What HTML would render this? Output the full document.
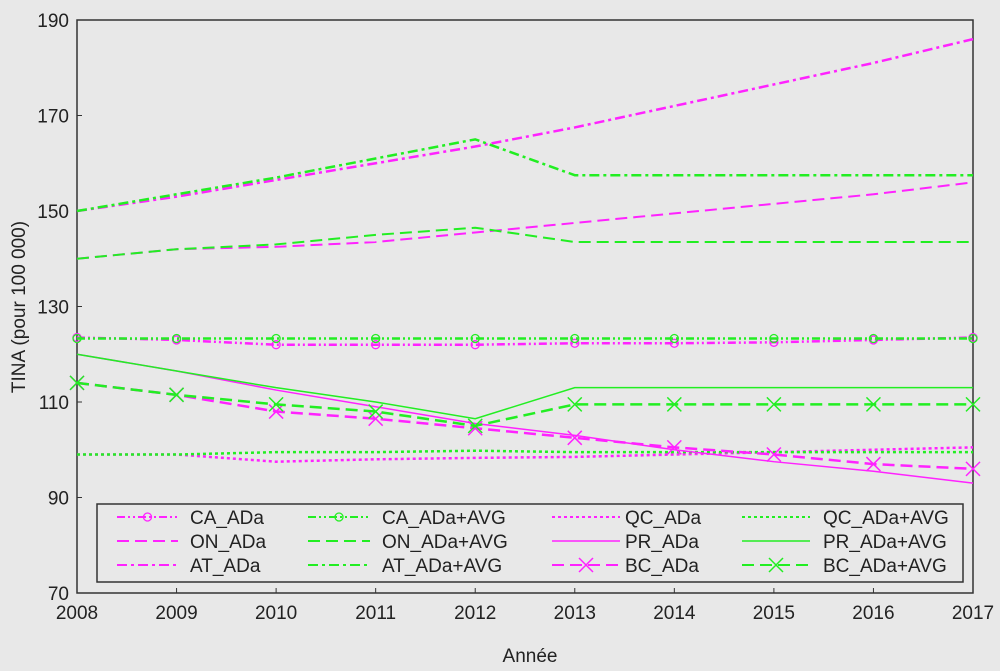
<!DOCTYPE html>
<html><head><meta charset="utf-8"><style>
body{margin:0;background:#e8e8e8;}
svg{display:block;font-family:"Liberation Sans",sans-serif;}
</style></head><body>
<svg id="c" width="1000" height="671"></svg>
<script>
const years=[2008,2009,2010,2011,2012,2013,2014,2015,2016,2017];
const yTicks=[70,90,110,130,150,170,190];
const CA_ADa=[123.5,123,122,122,122,122.3,122.3,122.5,123,123.5];
const CA_AVG=[123.3,123.3,123.3,123.3,123.3,123.3,123.3,123.3,123.3,123.3];
const QC_ADa=[99,99,97.5,98,98.3,98.5,99,99.5,100,100.5];
const QC_AVG=[99,99,99.5,99.5,99.8,99.5,99.5,99.5,99.5,99.5];
const ON_ADa=[140,142,142.5,143.5,145.5,147.5,149.5,151.5,153.5,156];
const ON_AVG=[140,142,143,145,146.5,143.5,143.5,143.5,143.5,143.5];
const PR_ADa=[120,116.5,112.5,109,105.5,103,100,97.5,95.5,93];
const PR_AVG=[120,116.5,113,110,106.5,113,113,113,113,113];
const AT_ADa=[150,153,156.5,160,163.5,167.5,172,176.5,181,186];
const AT_AVG=[150,153.5,157,161,165,157.5,157.5,157.5,157.5,157.5];
const BC_ADa=[114,111.5,108,106.5,104.5,102.5,100.5,99,97,96];
const BC_AVG=[114,111.5,109.5,108,105,109.5,109.5,109.5,109.5,109.5];
const M="#ff22ff",G="#22ee22";
const series=[
 {n:"CA_ADa",d:CA_ADa,c:M,dash:"8,3,2,3,2,3",mk:"o"},
 {n:"CA_ADa+AVG",d:CA_AVG,c:G,dash:"8,3,2,3,2,3",mk:"o"},
 {n:"QC_ADa",d:QC_ADa,c:M,dash:"3,3",mk:""},
 {n:"QC_ADa+AVG",d:QC_AVG,c:G,dash:"3,3",mk:""},
 {n:"ON_ADa",d:ON_ADa,c:M,dash:"12,6",mk:"",w:2},
 {n:"ON_ADa+AVG",d:ON_AVG,c:G,dash:"12,6",mk:"",w:2},
 {n:"PR_ADa",d:PR_ADa,c:M,dash:"",mk:"",w:1.5},
 {n:"PR_ADa+AVG",d:PR_AVG,c:G,dash:"",mk:"",w:1.5},
 {n:"AT_ADa",d:AT_ADa,c:M,dash:"10,4,3,4",mk:""},
 {n:"AT_ADa+AVG",d:AT_AVG,c:G,dash:"10,4,3,4",mk:""},
 {n:"BC_ADa",d:BC_ADa,c:M,dash:"12,6",mk:"x"},
 {n:"BC_ADa+AVG",d:BC_AVG,c:G,dash:"12,6",mk:"x"}
];
const L=77,R=973,T=20,B=593;
const xs=y=>L+(y-2008)/(2017-2008)*(R-L);
const ys=v=>B-(v-70)/(190-70)*(B-T);
const svg=document.getElementById('c');
const NS="http://www.w3.org/2000/svg";
function el(t,a,p){const e=document.createElementNS(NS,t);for(const k in a)e.setAttribute(k,a[k]);(p||svg).appendChild(e);return e;}
const frame=el('rect',{x:L,y:T,width:R-L,height:B-T,fill:'none',stroke:'#333','stroke-width':1.5});


yTicks.forEach(v=>{
 const t=el('text',{x:L-8,y:ys(v)+7,'text-anchor':'end','font-size':19,fill:'#222'});t.textContent=v;
 
 
 el('line',{x1:L,x2:L+5,y1:ys(v),y2:ys(v),stroke:'#333'});
});
years.forEach(y=>{
 const t=el('text',{x:xs(y),y:B+26,'text-anchor':'middle','font-size':19,fill:'#222'});t.textContent=y;
 
 
 el('line',{x1:xs(y),x2:xs(y),y1:B,y2:B-5,stroke:'#333'});
});
const yt=el('text',{transform:'translate(25,307) rotate(-90)','text-anchor':'middle','font-size':19,fill:'#222'});yt.textContent="TINA (pour 100 000)";


const xt=el('text',{x:530,y:662,'text-anchor':'middle','font-size':19,fill:'#222'});xt.textContent="Année";


function marker(g,k,x,y,c){
 if(k==='o')el('circle',{cx:x,cy:y,r:4,fill:'none',stroke:c,'stroke-width':1.3},g);
 if(k==='x'){el('path',{d:`M${x-7},${y-7}L${x+7},${y+7}M${x-7},${y+7}L${x+7},${y-7}`,stroke:c,'stroke-width':1.5},g);}
}
series.forEach(s=>{
 const g=el('g',{});
 
 
 el('polyline',{points:s.d.map((v,i)=>xs(years[i])+','+ys(v)).join(' '),fill:'none',stroke:s.c,'stroke-width':s.w||2.5,'stroke-dasharray':s.dash},g);
 if(s.mk)s.d.forEach((v,i)=>marker(g,s.mk,xs(years[i]),ys(v),s.c));
});
const lg=el('g',{});


el('rect',{x:97,y:504,width:866,height:78,fill:'#e8e8e8',stroke:'#333','stroke-width':1.5},lg);
const colX=[[117,178,190],[308,370,382],[552,620,625],[742,810,823]];
series.forEach((s,i)=>{
 const col=i%4,row=Math.floor(i/4),y=517+row*24;
 const [a,b,tx]=colX[col];
 const e=el('g',{},lg);
 
 
 el('line',{x1:a,x2:b,y1:y,y2:y,stroke:s.c,'stroke-width':s.w||2,'stroke-dasharray':s.dash},e);
 if(s.mk)marker(e,s.mk,(a+b)/2,y,s.c);
 const t=el('text',{x:tx,y:y+7,'font-size':19,fill:'#222'},e);t.textContent=s.n;
});
</script>
</body></html>
